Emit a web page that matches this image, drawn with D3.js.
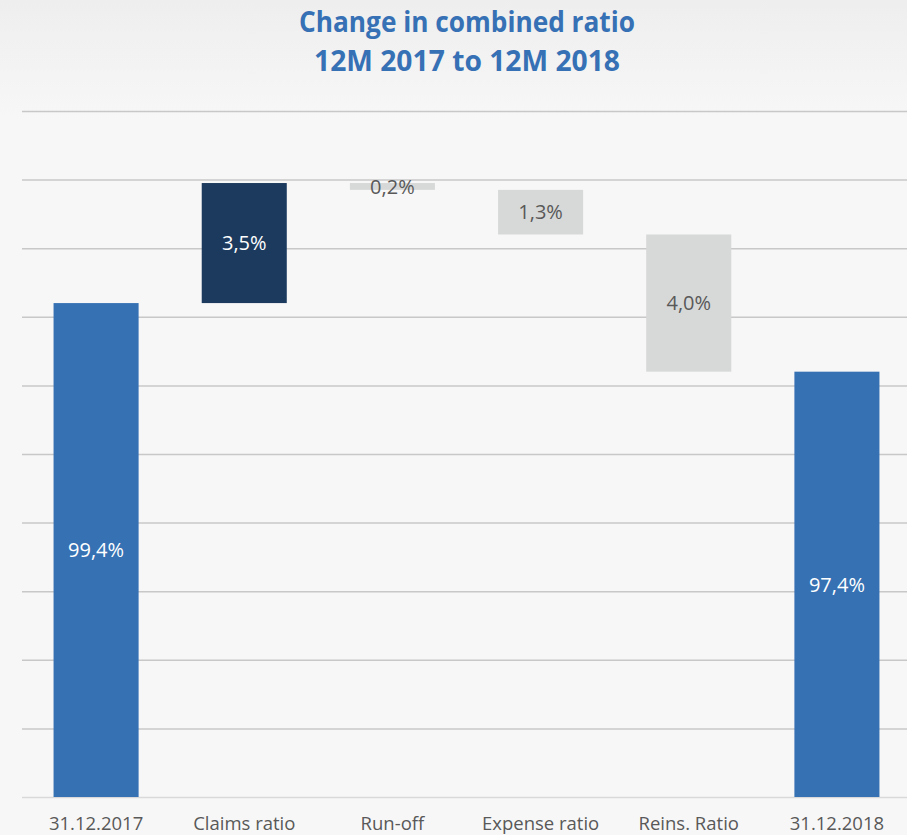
<!DOCTYPE html>
<html>
<head>
<meta charset="utf-8">
<script src="https://cdn.jsdelivr.net/npm/d3@7"></script>
<style>
  html, body { margin: 0; padding: 0; background: #f7f7f7; }
  svg { display: block; }
</style>
</head>
<body>
<script>
// Waterfall: change in combined ratio, 12M 2017 to 12M 2018
const categories = ["31.12.2017", "Claims ratio", "Run-off", "Expense ratio", "Reins. Ratio", "31.12.2018"];
const values = [99.4, 3.5, -0.2, -1.3, -4.0, 97.4];
const kinds = ["total", "delta", "delta", "delta", "delta", "total"];
const valueLabels = ["99,4%", "3,5%", "0,2%", "1,3%", "4,0%", "97,4%"];
const yTicks = [85, 87, 89, 91, 93, 95, 97, 99, 101, 103, 105];
const titleLines = ["Change in combined ratio", "12M 2017 to 12M 2018"];

const W = 907, H = 835;
const colors = { total: "#3571b3", up: "#1c3a5e", down: "#d7d8d8" };

const svg = d3.select("body").append("svg").attr("width", W).attr("height", H);

const defs = svg.append("defs");
const grad = defs.append("linearGradient").attr("id", "bg").attr("x1", 0).attr("y1", 0).attr("x2", 0).attr("y2", 1);
grad.append("stop").attr("offset", "0%").attr("stop-color", "#eeeeee");
grad.append("stop").attr("offset", "14%").attr("stop-color", "#f7f7f7");
grad.append("stop").attr("offset", "100%").attr("stop-color", "#f7f7f7");
svg.append("rect").attr("width", W).attr("height", H).attr("fill", "url(#bg)");

// Running totals give each bar its start and end
let running = 0;
const bars = categories.map((c, i) => {
  let y0, y1, type;
  if (kinds[i] === "total") {
    y0 = yTicks[0]; y1 = values[i]; running = values[i]; type = "total";
  } else {
    y0 = running; y1 = running + values[i]; running = y1;
    type = values[i] >= 0 ? "up" : "down";
  }
  return { cat: c, lo: Math.min(y0, y1), hi: Math.max(y0, y1), type, label: valueLabels[i] };
});

const x = d3.scaleBand().domain(categories).range([22, 911]).paddingInner(0.426).paddingOuter(0.213);
const y = d3.scaleLinear().domain([yTicks[0], yTicks[yTicks.length - 1]]).range([797, 111]);

// Horizontal gridlines
const yAxis = d3.axisLeft(y).tickValues(yTicks).tickSize(-(W - 22)).tickFormat("");
const gy = svg.append("g").attr("transform", "translate(22,0)").call(yAxis);
gy.select(".domain").remove();
gy.selectAll(".tick line")
  .attr("stroke", d => d === yTicks[0] ? "#d9d9d9" : "#c8c8c8")
  .attr("stroke-width", 1.5);

// Bars
svg.append("g").selectAll("rect").data(bars).join("rect")
  .attr("x", d => x(d.cat))
  .attr("width", x.bandwidth())
  .attr("y", d => y(d.hi))
  .attr("height", d => y(d.lo) - y(d.hi))
  .attr("fill", d => colors[d.type]);

// Value labels centred in each bar
svg.append("g").selectAll("text").data(bars).join("text")
  .attr("x", d => x(d.cat) + x.bandwidth() / 2)
  .attr("y", d => (y(d.lo) + y(d.hi)) / 2)
  .attr("dy", "0.36em")
  .attr("text-anchor", "middle")
  .attr("font-family", "'Open Sans', sans-serif")
  .attr("font-size", 20)
  .attr("fill", d => d.type === "down" ? "#595959" : "#ffffff")
  .text(d => d.label);

// Category axis
const xAxis = d3.axisBottom(x).tickSize(0).tickPadding(0);
const gx = svg.append("g").attr("transform", "translate(0,797)").call(xAxis);
gx.select(".domain").remove();
gx.selectAll(".tick text")
  .attr("y", 33)
  .attr("dy", 0)
  .attr("font-family", "'Open Sans', sans-serif")
  .attr("font-size", 18.5)
  .attr("fill", "#595959");

// Title
const title = svg.append("g").attr("font-family", "'Open Sans', sans-serif").attr("font-weight", "bold")
  .attr("fill", "#3670b5").attr("text-anchor", "middle");
title.append("text").attr("x", 467).attr("y", 32).attr("font-size", 28)
  .attr("textLength", 336).attr("lengthAdjust", "spacingAndGlyphs").text(titleLines[0]);
title.append("text").attr("x", 467).attr("y", 71).attr("font-size", 28)
  .attr("textLength", 306).attr("lengthAdjust", "spacingAndGlyphs").text(titleLines[1]);
</script>
</body>
</html>
